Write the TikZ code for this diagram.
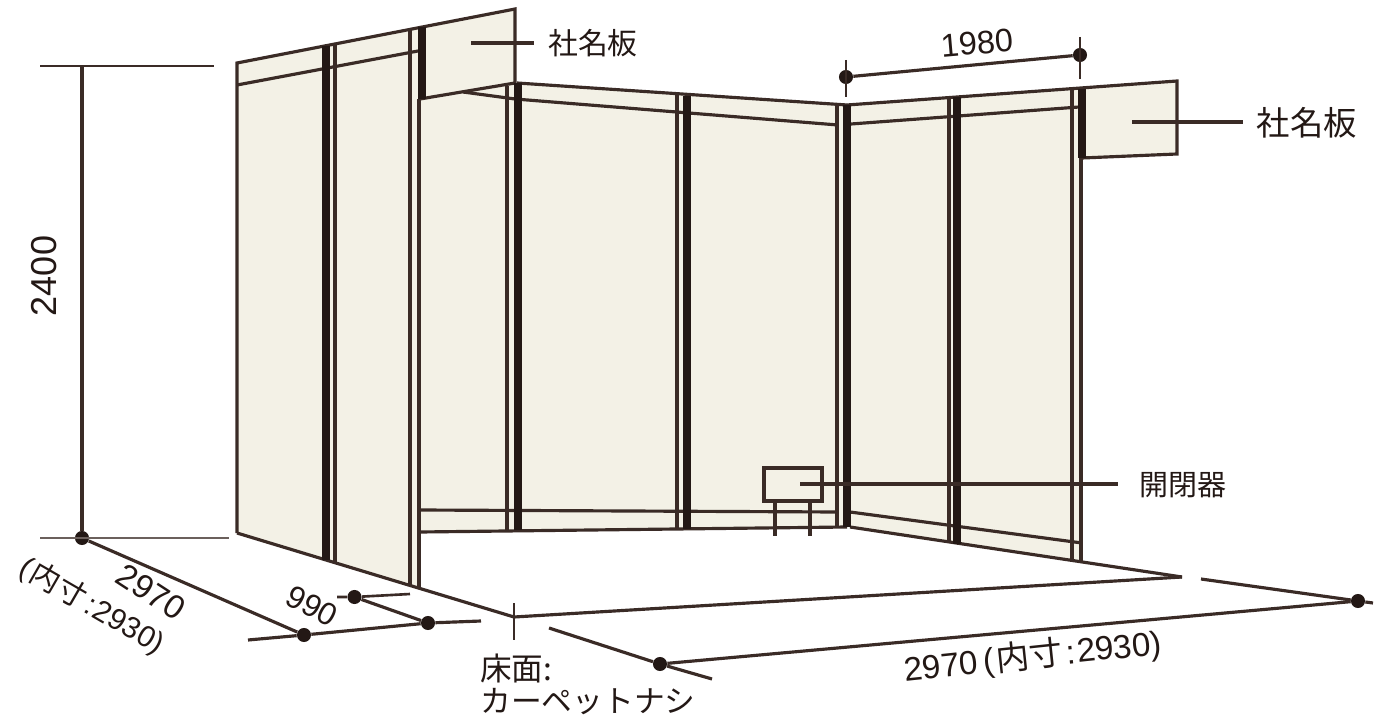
\documentclass[tikz,border=0pt]{standalone}
\usepackage{fontspec}
\setmainfont{Liberation Sans}
\newfontfamily\jp{Noto Sans CJK JP}
\definecolor{ink}{HTML}{3A2B26}
\definecolor{post}{HTML}{231815}
\definecolor{cream}{HTML}{F3F1E6}
\tikzset{
  thin line/.style={draw=ink,line width=1.8pt},
  dim line/.style={draw=ink,line width=1.5pt},
  wall/.style={fill=cream,draw=none},
  thick post/.style={draw=post,line width=4.6pt},
  dot/.style={circle,fill=post,draw=none,inner sep=0pt,minimum size=8pt},
  label/.style={text=post,inner sep=0pt},
}
\begin{document}
\begin{tikzpicture}[x=0.02cm,y=-0.02cm]
\useasboundingbox (0,0) rectangle (1375,719);
% walls
\fill[wall] (237,63) -- (422,27) -- (422,100) -- (419,589) -- (237,533) -- cycle;
\fill[wall] (420,99) -- (517,83) -- (847,105) -- (847,527) -- (420,532) -- cycle;
\fill[wall] (847,105) -- (1081,88) -- (1081,562) -- (847,527) -- cycle;
\fill[wall] (422,28) -- (515,9) -- (515,83) -- (420,99) -- cycle;
\fill[wall] (1082,89) -- (1177,81) -- (1177,154) -- (1082,158) -- cycle;
% left wall
\draw[thin line] (237,533) -- (237,63) -- (515,9) -- (515,83) -- (420,99);
\draw[thin line] (237,85) -- (418,51);
\draw[thin line] (237,533) -- (514,617);
\draw[thick post] (326,46) -- (326,560);
\draw[thin line] (335,44) -- (335,563);
\draw[thin line] (410,30) -- (410,586);
\draw[thin line] (419,99) -- (419,589);
\draw[thick post] (422,27) -- (422,99);
% back wall
\draw[thin line] (463,92) -- (515,99) -- (838,125);
\draw[thin line] (517,83) -- (847,105);
\draw[thin line] (420,510) -- (838,512);
\draw[thin line] (420,532) -- (847,527);
\draw[thin line] (507,86) -- (507,531);
\draw[thick post] (518,83) -- (518,530);
\draw[thin line] (677,95) -- (677,529);
\draw[thick post] (687,96) -- (687,529);
\draw[thin line] (837,104) -- (837,527);
% right wall
\draw[thin line] (847,105) -- (1177,81) -- (1177,154) -- (1082,158);
\draw[thin line] (851,124) -- (1079,107);
\draw[thin line] (850,512) -- (1082,543);
\draw[thin line] (850,527) -- (1182,577);
\draw[thick post] (847,105) -- (847,527);
\draw[thin line] (949,98) -- (949,542);
\draw[thick post] (957,97) -- (957,544);
\draw[thin line] (1072,90) -- (1072,562);
\draw[thin line] (1081,158) -- (1081,562);
\draw[thick post] (1082,89) -- (1082,158);
% floor
\draw[thin line] (514,617) -- (1182,577);
\draw[dim line] (514,603) -- (514,640);
% switch
\draw[thin line,fill=cream] (764,468) rectangle (822,501);
\draw[thin line] (775,501) -- (775,536);
\draw[thin line] (810,501) -- (810,536);
% dots
\node[dot] (hb) at (82,538) {};
\node[dot] (dA) at (304,635) {};
\node[dot] (dB) at (354.5,597) {};
\node[dot] (dC) at (428,623) {};
\node[dot] (dD) at (660,664) {};
\node[dot] (dE) at (1358,601) {};
\node[dot] (wL) at (846,77) {};
\node[dot] (wR) at (1080,55) {};
% dimension lines
\coordinate (ht) at (82,66);
\draw[dim line] (40,66) -- (214,66);
\draw[dim line,draw=ink!75] (40,538) -- (229,538);
\draw[thin line] (ht) -- (hb);
\draw[thin line] (hb) -- (dA);
\draw[thin line] (248,640) -- (dA) -- (dC) -- (481,621);
\draw[thin line] (dB) -- (dC);
\draw[dim line] (337,597) -- (dB) -- (410,594);
\draw[thin line] (549,628) -- (dD) -- (712,679);
\draw[thin line] (dD) -- (dE);
\draw[thin line] (1201,579) -- (dE) -- (1373,603);
\draw[thin line] (wL) -- (wR);
\draw[dim line] (846,60) -- (846,97);
\draw[dim line] (1080,37) -- (1080,79);
% leaders
\coordinate (lA) at (471,43); \coordinate (lB) at (1132,122); \coordinate (lC) at (800,484);
\node[label,font=\jp\fontsize{17}{17}\selectfont] (nameA) at (593,43) {社名板};
\node[label,font=\jp\fontsize{19}{19}\selectfont] (nameB) at (1307,123) {社名板};
\node[label,font=\jp\fontsize{16.5}{16.5}\selectfont] (sw) at (1183,485) {開閉器};
\draw[thin line] (lA) -- (534,43);
\draw[thin line] (lB) -- (1243,122);
\draw[thin line] (lC) -- (1118,484);
% labels
\node[label,font=\fontsize{18.5}{18.5}\selectfont,rotate=5] (t1980) at (977,43) {1980};
\node[label,font=\fontsize{20.5}{20.5}\selectfont,rotate=90] (t2400) at (44,276) {2400};
\node[label,font=\fontsize{19}{19}\selectfont,rotate=-33] (t2970) at (151,592) {2970};
\node[label,font=\fontsize{17}{17}\selectfont,rotate=-30] (tin) at (92,606) {(\hspace{1pt}{\jp 内寸}\hspace{2pt}:\hspace{1pt}2930)};
\node[label,font=\fontsize{18}{18}\selectfont,rotate=-28] (t990) at (312,606) {990};
\node[label,font=\jp\fontsize{18}{18}\selectfont,anchor=west] (floorA) at (480,668) {床面:};
\node[label,font=\jp\fontsize{17.5}{17.5}\selectfont,anchor=west] (floorB) at (480,702) {カーペットナシ};
\node[label,font=\fontsize{19}{19}\selectfont,rotate=6] (t2970b) at (1033,657) {2970\hspace{3pt}(\hspace{1pt}{\jp 内寸}\hspace{2pt}:\hspace{1pt}2930)};
\end{tikzpicture}
\end{document}
